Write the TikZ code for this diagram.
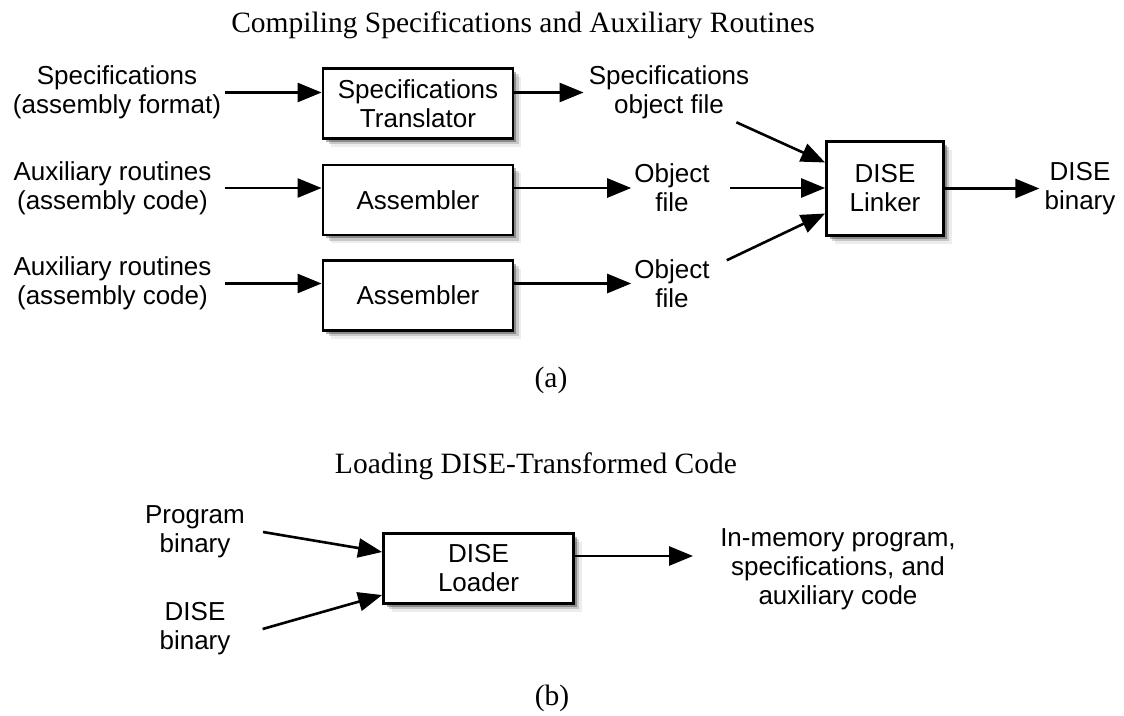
\documentclass[tikz,border=0pt]{standalone}
\usepackage{fontspec}
\setmainfont{Liberation Serif}
\setsansfont{Liberation Sans}
\usetikzlibrary{arrows.meta,shadows}

\begin{document}
\begin{tikzpicture}[x=1pt,y=-1pt,
  lbl/.style={font=\sffamily\fontsize{26}{29}\selectfont, align=center, inner sep=0pt},
  ttl/.style={font=\rmfamily\fontsize{29.5}{32}\selectfont, inner sep=0pt, anchor=base},
  proc/.style={draw, line width=2.8pt, fill=white, inner sep=0pt, align=center,
    font=\sffamily\fontsize{26}{29}\selectfont,
    minimum width=190pt, minimum height=70pt,
    drop shadow={shadow xshift=3pt, shadow yshift=-3pt, fill=black, opacity=.30},
    drop shadow={shadow xshift=5.5pt, shadow yshift=-5.5pt, fill=black, opacity=.16},
    drop shadow={shadow xshift=8pt, shadow yshift=-8pt, fill=black, opacity=.07}},
  flow/.style={-{Triangle[length=24pt,width=19pt]}, line width=2.6pt}
]
\useasboundingbox (0,0) rectangle (1124,715);

% ---------- (a) compiling ----------
\node[ttl] (ta) at (523,32) {Compiling Specifications and Auxiliary Routines};

\node[lbl] (in1) at (117,92.5)  {Specifications\\(assembly format)};
\node[lbl] (in2) at (112.5,188) {Auxiliary routines\\(assembly code)};
\node[lbl] (in3) at (112.5,283.5) {Auxiliary routines\\(assembly code)};

\node[proc] (t1) at (418,103.5) {Specifications\\Translator};
\node[proc] (a2) at (418,200)   {Assembler};
\node[proc] (a3) at (418,295.5) {Assembler};

\node[lbl] (s1) at (669,92.5) {Specifications\\object file};
\node[lbl] (o2) at (672,188)  {Object\\file};
\node[lbl] (o3) at (672,283.5){Object\\file};

\node[proc, minimum width=117pt, minimum height=94pt] (lk) at (885,188.5) {DISE\\Linker};
\node[lbl] (db) at (1080,188.5) {DISE\\binary};

\draw[flow] ([xshift=4pt]in1.east) -- (in1.east -| t1.west);
\draw[flow] ([xshift=13pt]in2.east) -- (in2.east -| a2.west);
\draw[flow] ([xshift=13pt]in3.east) -- (in3.east -| a3.west);

\draw[flow] (t1.east |- s1.west) -- ([xshift=-5pt]s1.west);
\draw[flow] (a2.east |- o2.west) -- ([xshift=-3pt]o2.west);
\draw[flow] (a3.east |- o3.west) -- ([xshift=-3pt]o3.west);

\draw[flow] ([shift={(-13pt,-3pt)}]s1.south east) -- ([yshift=26pt]lk.west);
\draw[flow] ([xshift=20pt]o2.east) -- (o2.east -| lk.west);
\draw[flow] ([shift={(17pt,-1pt)}]o3.north east) -- ([yshift=-25pt]lk.west);

\draw[flow] (lk.east |- db.west) -- ([xshift=-5pt]db.west);

\node[ttl] (capa) at (551,387) {(a)};

% ---------- (b) loading ----------
\node[ttl] (tb) at (536,473) {Loading DISE-Transformed Code};

\node[lbl] (pb) at (195,532) {Program\\binary};
\node[lbl] (dbin) at (195,629) {DISE\\binary};
\node[proc] (ld) at (478.5,568.5) {DISE\\Loader};
\node[lbl] (mem) at (838,569) {In-memory program,\\specifications, and\\auxiliary code};

\coordinate (ldo) at ([yshift=12.5pt]ld.east);
\draw[flow] ([xshift=18pt]pb.east) -- ([yshift=16.5pt]ld.west);
\draw[flow] ([xshift=32pt]dbin.east) -- ([yshift=-26.5pt]ld.west);
\draw[flow] (ldo) -- ([xshift=-27pt]mem.west |- ldo);

\node[ttl] (capb) at (552,705) {(b)};
\end{tikzpicture}
\end{document}
